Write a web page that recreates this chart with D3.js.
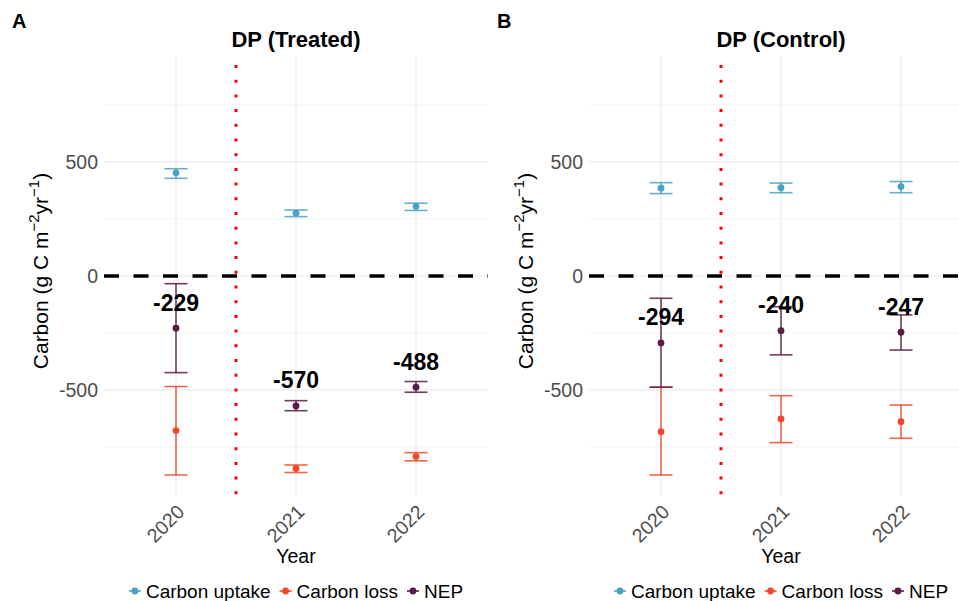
<!DOCTYPE html>
<html>
<head>
<meta charset="utf-8">
<script src="https://cdn.jsdelivr.net/npm/d3@7"></script>
<style>
  body { margin: 0; background: #fff; }
  text { font-family: "Liberation Sans", Arial, sans-serif; }
</style>
</head>
<body>
<svg></svg>
<script>
// Svg element dimensions
const width = 959;
const height = 601;

// Data
const years = ["2020", "2021", "2022"];
const seriesNames = ["Carbon uptake", "Carbon loss", "NEP"];
const colors = ["#4aa3c2", "#ef4a2b", "#5b1a47"];
const yTicks = [-500, 0, 500];
const yMinor = [-750, -250, 250, 750];

// DP (Treated)
const uptakeT = [452, 275, 304];
const uptakeTLow = [428, 260, 287];
const uptakeTHigh = [470, 289, 319];
const lossT = [-678, -844, -792];
const lossTLow = [-873, -862, -811];
const lossTHigh = [-485, -829, -775];
const nepT = [-229, -570, -488];
const nepTLow = [-424, -591, -510];
const nepTHigh = [-34, -547, -463];

// DP (Control)
const uptakeC = [385, 387, 392];
const uptakeCLow = [361, 365, 365];
const uptakeCHigh = [409, 407, 414];
const lossC = [-683, -627, -639];
const lossCLow = [-873, -731, -712];
const lossCHigh = [-488, -525, -566];
const nepC = [-294, -240, -247];
const nepCLow = [-488, -346, -325];
const nepCHigh = [-98, -135, -171];

const panels = [
  {
    tag: "A", title: "DP (Treated)", left: 104, right: 488, tagX: 12,
    series: [[uptakeT, uptakeTLow, uptakeTHigh], [lossT, lossTLow, lossTHigh], [nepT, nepTLow, nepTHigh]]
  },
  {
    tag: "B", title: "DP (Control)", left: 589, right: 973, tagX: 497,
    series: [[uptakeC, uptakeCLow, uptakeCHigh], [lossC, lossCLow, lossCHigh], [nepC, nepCLow, nepCHigh]]
  }
];

const svg = d3.select("svg").attr("width", width).attr("height", height);

// shared y scale
const plotTop = 57, plotBottom = 496;
const yScale = d3.scaleLinear().domain([-965, 960]).range([plotBottom, plotTop]);

panels.forEach((p) => {
  const xScale = d3.scalePoint().domain(years).range([p.left, p.right]).padding(0.6);
  const g = svg.append("g");
  const cx = (p.left + p.right) / 2;

  // grid
  g.selectAll(".minor").data(yMinor).enter().append("line")
    .attr("x1", p.left).attr("x2", p.right)
    .attr("y1", (d) => yScale(d)).attr("y2", (d) => yScale(d))
    .attr("stroke", "#f4f4f4").attr("stroke-width", 1);
  g.selectAll(".major").data(yTicks).enter().append("line")
    .attr("x1", p.left).attr("x2", p.right)
    .attr("y1", (d) => yScale(d)).attr("y2", (d) => yScale(d))
    .attr("stroke", "#ebebeb").attr("stroke-width", 1.2);
  g.selectAll(".vgrid").data(years).enter().append("line")
    .attr("x1", (d) => xScale(d)).attr("x2", (d) => xScale(d))
    .attr("y1", plotTop).attr("y2", plotBottom)
    .attr("stroke", "#ebebeb").attr("stroke-width", 1.2);

  // y axis tick labels
  const yAxis = d3.axisLeft(yScale).tickValues(yTicks).tickSize(0).tickPadding(6)
    .tickFormat(d3.format("d"));
  const yAxisG = g.append("g").attr("transform", `translate(${p.left},0)`).call(yAxis);
  yAxisG.select(".domain").remove();
  yAxisG.selectAll("text")
    .attr("font-size", 19.5).attr("fill", "#4d4d4d")
    .attr("font-family", "Liberation Sans, Arial, sans-serif")
    .text((d) => (d < 0 ? "-" + Math.abs(d) : d));

  // x axis tick labels, rotated
  const xAxis = d3.axisBottom(xScale).tickSize(0).tickPadding(0);
  const xAxisG = g.append("g").attr("transform", `translate(0,${plotBottom})`).call(xAxis);
  xAxisG.select(".domain").remove();
  xAxisG.selectAll("text")
    .attr("font-size", 19.5).attr("fill", "#4d4d4d")
    .attr("font-family", "Liberation Sans, Arial, sans-serif")
    .attr("text-anchor", "end")
    .attr("dy", null).attr("y", 0)
    .attr("transform", "translate(-1,7) rotate(-45)")
    .attr("dominant-baseline", "hanging");

  // zero line
  g.append("line")
    .attr("x1", p.left).attr("x2", p.right)
    .attr("y1", yScale(0)).attr("y2", yScale(0))
    .attr("stroke", "#000").attr("stroke-width", 3.5)
    .attr("stroke-dasharray", "15,14.5");

  // treatment marker between 2020 and 2021
  const vx = (xScale("2020") + xScale("2021")) / 2;
  g.append("line")
    .attr("x1", vx).attr("x2", vx)
    .attr("y1", plotTop + 8).attr("y2", plotBottom)
    .attr("stroke", "#ff0000").attr("stroke-width", 3)
    .attr("stroke-dasharray", "3,11.7");

  // error bars and points
  p.series.forEach(([mean, low, high], si) => {
    const col = colors[si];
    const eb = g.append("g").attr("stroke", col).attr("stroke-width", 1.6).attr("stroke-opacity", 0.85);
    years.forEach((yr, i) => {
      const x = xScale(yr);
      eb.append("line").attr("x1", x).attr("x2", x).attr("y1", yScale(low[i])).attr("y2", yScale(high[i]));
      eb.append("line").attr("x1", x - 11.5).attr("x2", x + 11.5).attr("y1", yScale(low[i])).attr("y2", yScale(low[i]));
      eb.append("line").attr("x1", x - 11.5).attr("x2", x + 11.5).attr("y1", yScale(high[i])).attr("y2", yScale(high[i]));
    });
    g.selectAll(".pt" + si).data(mean).enter().append("circle")
      .attr("cx", (d, i) => xScale(years[i])).attr("cy", (d) => yScale(d))
      .attr("r", 3.4).attr("fill", col);
  });

  // NEP value labels
  const nep = p.series[2][0];
  g.selectAll(".lab").data(nep).enter().append("text")
    .attr("x", (d, i) => xScale(years[i]))
    .attr("y", (d) => yScale(d + 113))
    .attr("dy", "0.36em")
    .attr("text-anchor", "middle").attr("font-size", 23).attr("font-weight", "bold")
    .attr("fill", "#000")
    .text((d) => "-" + Math.abs(d));

  // panel title and tag
  svg.append("text").attr("x", cx).attr("y", 47).attr("text-anchor", "middle")
    .attr("font-size", 22).attr("font-weight", "bold").text(p.title);
  svg.append("text").attr("x", p.tagX).attr("y", 28)
    .attr("font-size", 20).attr("font-weight", "bold").text(p.tag);

  // axis titles
  svg.append("text").attr("x", cx).attr("y", 563).attr("text-anchor", "middle")
    .attr("font-size", 19.5).text("Year");
  const yt = svg.append("text")
    .attr("transform", `translate(${p.left - 56},271) rotate(-90)`)
    .attr("text-anchor", "middle").attr("font-size", 21);
  yt.append("tspan").text("Carbon (g C m");
  yt.append("tspan").attr("font-size", 15).attr("dy", -9).text("\u22122");
  yt.append("tspan").attr("dy", 9).text("yr");
  yt.append("tspan").attr("font-size", 15).attr("dy", -9).text("\u22121");
  yt.append("tspan").attr("dy", 9).text(")");

  // legend
  const lg = svg.append("g");
  let lx = 0;
  seriesNames.forEach((name, i) => {
    const item = lg.append("g").attr("transform", `translate(${lx},0)`);
    item.append("line").attr("x1", 0).attr("x2", 12).attr("y1", 0).attr("y2", 0)
      .attr("stroke", colors[i]).attr("stroke-width", 1.6);
    item.append("circle").attr("cx", 6).attr("cy", 0).attr("r", 3.4).attr("fill", colors[i]);
    const t = item.append("text").attr("x", 17).attr("y", 0).attr("dy", "0.36em")
      .attr("font-size", 19).attr("fill", "#000").text(name);
    lx += 17 + t.node().getComputedTextLength() + 9;
  });
  const lw = lx - 9;
  lg.attr("transform", `translate(${cx - lw / 2},591)`);
});
</script>
</body>
</html>
